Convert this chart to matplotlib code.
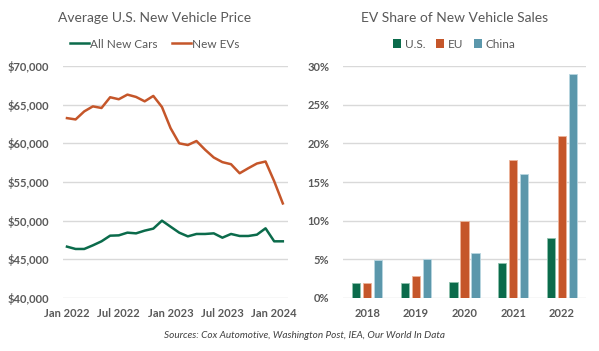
import numpy as np
import matplotlib
matplotlib.use("Agg")
import matplotlib.pyplot as plt
from matplotlib.lines import Line2D
from matplotlib.patches import Patch

# monthly prices, Jan 2022 .. Feb 2024
all_new_cars = [46640, 46340, 46340, 46810, 47330, 48060, 48100, 48450, 48360, 48710,
                48970, 50000, 49220, 48450, 47970, 48280, 48280, 48360, 47800, 48280,
                48020, 48020, 48190, 49010, 47330, 47330]
new_evs = [63260, 63090, 64130, 64780, 64570, 65960, 65700, 66300, 66000, 65430,
           66130, 64700, 61960, 60000, 59780, 60300, 59170, 58170, 57570, 57300,
           56130, 56780, 57390, 57650, 55100, 52230]
month_ticks = [0, 6, 12, 18, 24]
month_labels = ["Jan 2022", "Jul 2022", "Jan 2023", "Jul 2023", "Jan 2024"]

years = ["2018", "2019", "2020", "2021", "2022"]
share_us = [1.95, 2.0, 2.1, 4.5, 7.7]
share_eu = [1.9, 2.9, 10.0, 17.8, 21.0]
share_china = [4.85, 5.0, 5.8, 16.0, 29.0]

GREEN = "#0B6B4B"
ORANGE = "#C5562A"
TEAL = "#5B97AB"
GRID = "#D9D9D9"
TXT = "#595959"

plt.rcParams['font.family'] = ['Lato', 'DejaVu Sans']

fig = plt.figure(figsize=(5.99, 3.51), dpi=100)
W, H = 599, 351


def box(x0, y0, x1, y1):
    return [x0 / W, 1 - y1 / H, (x1 - x0) / W, (y1 - y0) / H]


def style_axes(ax):
    for s in ax.spines.values():
        s.set_visible(False)
    ax.yaxis.grid(True, color=GRID, linewidth=1.0)
    ax.set_axisbelow(True)
    ax.tick_params(length=0, colors=TXT, labelsize=8)
    for lab in ax.get_xticklabels() + ax.get_yticklabels():
        lab.set_fontweight("bold")


# left: price lines
ax1 = fig.add_axes(box(63, 66, 288, 298))
x = np.arange(len(all_new_cars))
ax1.plot(x, all_new_cars, color=GREEN, linewidth=1.8)
ax1.plot(x, new_evs, color=ORANGE, linewidth=1.8)
ax1.set_ylim(40000, 70000)
ax1.set_yticks(range(40000, 70001, 5000))
ax1.set_yticklabels([f"${v:,}" for v in range(40000, 70001, 5000)])
ax1.set_xlim(-0.46, 25.6)
ax1.set_xticks(month_ticks)
ax1.set_xticklabels(month_labels)
ax1.tick_params(axis="y", pad=10)
ax1.tick_params(axis="x", pad=7)
style_axes(ax1)
fig.text(155 / W, 1 - 18 / H, "Average U.S. New Vehicle Price", ha="center", va="center",
         fontsize=10, color=TXT)
leg1 = fig.legend(handles=[Line2D([], [], color=GREEN, linewidth=1.8, label="All New Cars"),
                           Line2D([], [], color=ORANGE, linewidth=1.8, label="New EVs")],
                  loc="center", bbox_to_anchor=(155 / W, 1 - 44 / H), ncol=2, frameon=False,
                  fontsize=8.5, handlelength=1.6, handletextpad=0.1, columnspacing=1.2)
for t in leg1.get_texts():
    t.set_color(TXT)

# right: EV share bars
ax2 = fig.add_axes(box(343, 66, 586, 298))
xb = np.arange(len(years))
bw = 0.17
step = 0.226
ax2.bar(xb - step, share_us, bw, color=GREEN, edgecolor="#8FC2AE", linewidth=0.6)
ax2.bar(xb, share_eu, bw, color=ORANGE, edgecolor="#EDB49A", linewidth=0.6)
ax2.bar(xb + step, share_china, bw, color=TEAL, edgecolor="#B9D6E0", linewidth=0.6)
ax2.set_xlim(-0.5, 4.5)
ax2.set_ylim(0, 30)
ax2.set_yticks(range(0, 31, 5))
ax2.set_yticklabels([f"{v}%" for v in range(0, 31, 5)])
ax2.set_xticks(xb)
ax2.set_xticklabels(years)
ax2.tick_params(axis="y", pad=10)
ax2.tick_params(axis="x", pad=7)
style_axes(ax2)
fig.text(455 / W, 1 - 18 / H, "EV Share of New Vehicle Sales", ha="center", va="center",
         fontsize=10, color=TXT)
leg2 = fig.legend(handles=[Patch(facecolor=GREEN, label="U.S."),
                           Patch(facecolor=ORANGE, label="EU"),
                           Patch(facecolor=TEAL, label="China")],
                  loc="center", bbox_to_anchor=(454 / W, 1 - 44 / H), ncol=3, frameon=False,
                  fontsize=8.5, handlelength=0.7, handleheight=0.7, handletextpad=0.3,
                  columnspacing=0.9)
for t in leg2.get_texts():
    t.set_color(TXT)

fig.text(304 / W, 1 - 336 / H, "Sources: Cox Automotive, Washington Post, IEA, Our World In Data",
         ha="center", va="center", fontsize=7.2, style="italic", color="#404040")

fig.savefig("out.png", dpi=100, facecolor="white")
